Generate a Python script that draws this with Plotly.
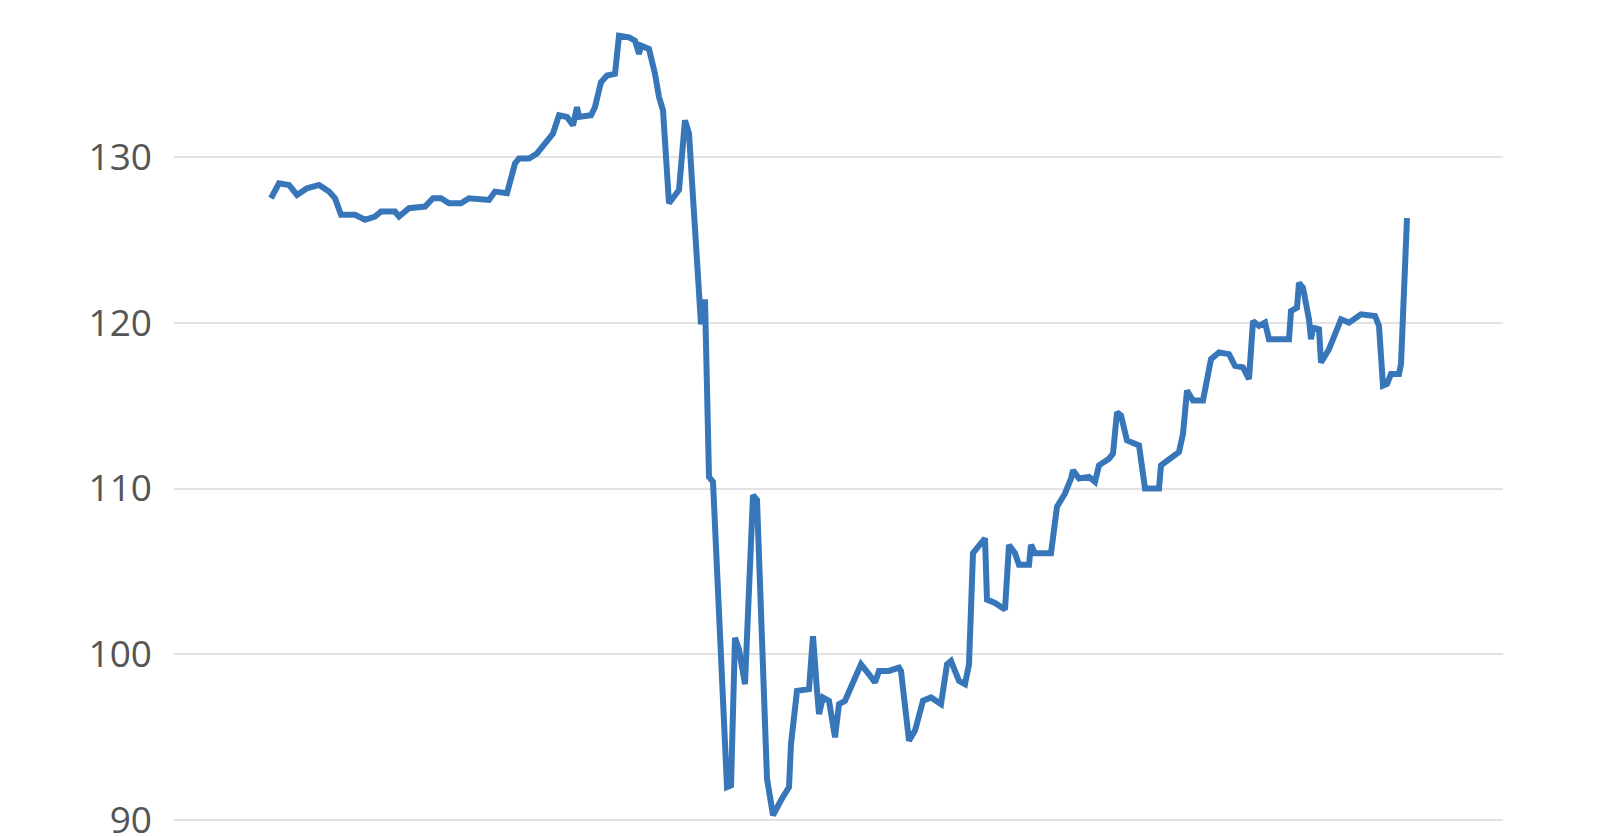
import plotly.graph_objects as go

# trading day index and closing level
days = [0, 4, 9, 13, 18, 24, 29, 32, 35, 42, 47, 52, 55, 62, 64, 69, 77, 81, 85, 89,
        95, 99, 109, 112, 118, 122, 124, 129, 133, 136, 141, 144, 148, 151, 153, 154,
        160, 162, 165, 168, 172, 174, 179, 182, 184, 185, 189, 192, 194, 196, 199, 204,
        207, 209, 214, 215, 217, 219, 221, 228, 230, 232, 234, 237, 241, 243, 248, 251,
        255, 259, 260, 263, 269, 271, 273, 274, 276, 279, 282, 284, 287, 290, 295, 299,
        302, 304, 309, 314, 315, 319, 322, 326, 330, 335, 338, 340, 344, 347, 349, 351,
        354, 357, 358, 362, 367, 369, 372, 374, 379, 380, 382, 390, 393, 397, 400, 401,
        404, 409, 412, 414, 419, 421, 423, 425, 428, 434, 437, 444, 445, 450, 454, 456,
        458, 461, 466, 470, 474, 479, 482, 486, 489, 491, 494, 497, 499, 509, 510, 513,
        514, 516, 519, 520, 521, 524, 525, 529, 534, 535, 539, 545, 552, 554, 556, 558,
        560, 564, 565, 568]
level = [127.5, 128.4, 128.3, 127.7, 128.1, 128.3, 127.9, 127.5, 126.5, 126.5, 126.2,
         126.4, 126.7, 126.7, 126.4, 126.9, 127.0, 127.5, 127.5, 127.2, 127.2, 127.5,
         127.4, 127.9, 127.8, 129.6, 129.9, 129.9, 130.2, 130.7, 131.4, 132.5, 132.4,
         131.9, 133.0, 132.4, 132.5, 133.0, 134.5, 134.9, 135.0, 137.3, 137.2, 137.0,
         136.2, 136.7, 136.5, 135.0, 133.6, 132.8, 127.2, 128.0, 132.2, 131.4, 121.6,
         119.9, 121.4, 110.7, 110.4, 92.0, 92.1, 101.0, 100.3, 98.2, 109.6, 109.3, 92.5,
         90.3, 91.2, 92.0, 94.6, 97.8, 97.9, 101.1, 97.8, 96.4, 97.4, 97.2, 95.0, 97.0,
         97.2, 98.0, 99.4, 98.8, 98.3, 99.0, 99.0, 99.2, 99.0, 94.8, 95.4, 97.2, 97.4,
         97.0, 99.4, 99.6, 98.4, 98.2, 99.4, 106.1, 106.5, 107.0, 103.3, 103.1, 102.7,
         106.6, 106.1, 105.4, 105.4, 106.6, 106.1, 106.1, 108.9, 109.7, 110.6, 111.1,
         110.6, 110.7, 110.4, 111.4, 111.8, 112.1, 114.6, 114.4, 112.9, 112.6, 110.0,
         110.0, 111.4, 111.8, 112.2, 113.3, 115.9, 115.3, 115.3, 117.8, 118.2, 118.1,
         117.4, 117.3, 116.6, 120.1, 119.8, 120.0, 119.0, 119.0, 120.7, 120.9, 122.4,
         122.1, 120.2, 119.0, 119.7, 119.6, 117.6, 118.4, 119.8, 120.2, 120.0, 120.5,
         120.4, 119.8, 116.2, 116.3, 116.9, 116.9, 117.5, 126.3]

y_ticks = [90, 100, 110, 120, 130, 140]

fig = go.Figure()
fig.add_trace(go.Scatter(
    x=days,
    y=level,
    mode='lines',
    line=dict(color='#3777b9', width=6),
    hoverinfo='y',
))

fig.update_layout(
    width=1600,
    height=836,
    margin=dict(l=166, r=105, t=0, b=0),
    paper_bgcolor='white',
    plot_bgcolor='white',
    showlegend=False,
    xaxis=dict(
        range=[-48.5, 616],
        showgrid=False,
        zeroline=False,
        showline=False,
        showticklabels=False,
        ticks='',
    ),
    yaxis=dict(
        range=[89.29, 138.97],
        tickvals=y_ticks,
        showgrid=True,
        gridcolor='#e2e2e2',
        gridwidth=2,
        zeroline=False,
        showline=False,
        ticks='',
        ticklabelstandoff=21,
        ticklabeloverflow='allow',
        tickfont=dict(family='Open Sans', size=37, color='#555555'),
    ),
)

fig.write_html("out.html")
